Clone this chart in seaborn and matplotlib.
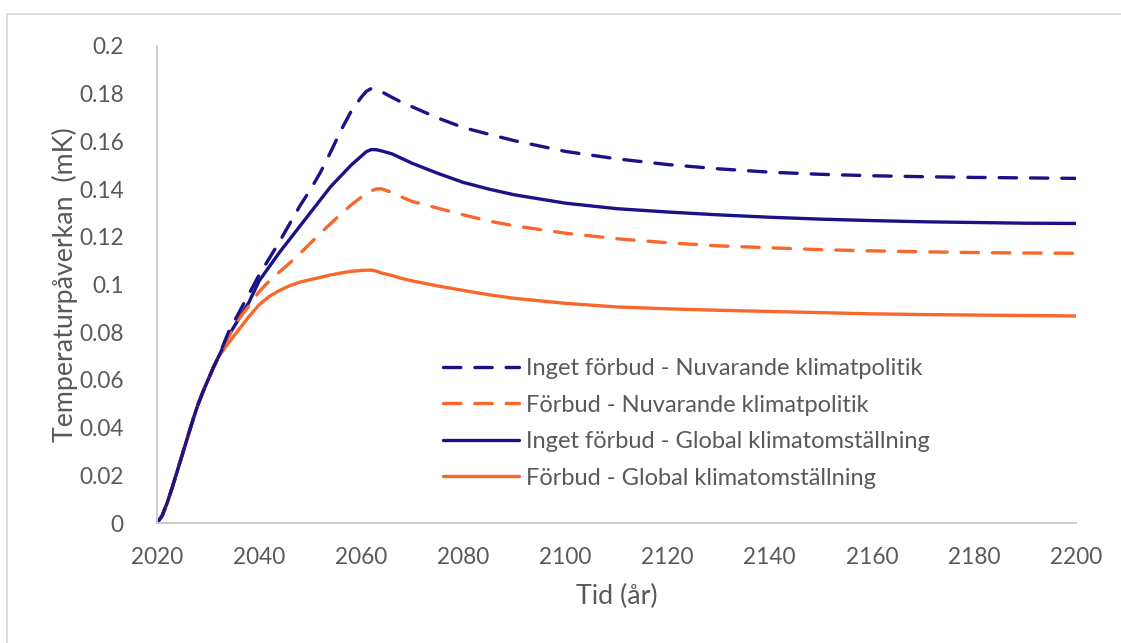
import numpy as np
import pandas as pd
import matplotlib
matplotlib.use("Agg")
import matplotlib.pyplot as plt
import seaborn as sns
from matplotlib.patches import Rectangle
from matplotlib.lines import Line2D

# ---- data ----
years = [2020, 2021, 2022, 2023, 2024, 2025, 2026, 2027, 2028, 2029, 2030, 2031, 2032,
         2034, 2036, 2038, 2040, 2042, 2044, 2046, 2048, 2050, 2052, 2054, 2056, 2058,
         2060, 2061, 2062, 2063, 2064, 2066, 2068, 2070,
         2075, 2080, 2085, 2090,
         2100, 2110, 2120, 2130, 2140, 2150, 2160, 2170, 2180, 2190, 2200]

# common start (all four scenarios coincide until ~2032)
common_start = [0.0, 0.003, 0.0085, 0.015, 0.022, 0.029, 0.036, 0.043, 0.0495, 0.055,
                0.060, 0.065, 0.0695]

inget_nuvarande_rest = [0.080, 0.088, 0.096, 0.104, 0.111, 0.118, 0.1255, 0.133, 0.1396,
                        0.147, 0.1555, 0.1645, 0.1725, 0.1785, 0.181, 0.1822, 0.1818,
                        0.1808, 0.1785, 0.1763, 0.1745,
                        0.1698, 0.1658, 0.163, 0.1603,
                        0.1558, 0.1527, 0.1503, 0.1485, 0.1471, 0.1462, 0.1456, 0.1452,
                        0.1449, 0.1447, 0.1445]

forbud_nuvarande_rest = [0.078, 0.0855, 0.091, 0.097, 0.1015, 0.1053, 0.109, 0.113, 0.1172,
                         0.1215, 0.1255, 0.1295, 0.1333, 0.1366, 0.138, 0.1393, 0.1401,
                         0.1401, 0.1386, 0.1366, 0.1348,
                         0.132, 0.1292, 0.1266, 0.1246,
                         0.1215, 0.1192, 0.1175, 0.1162, 0.1154, 0.1146, 0.1141, 0.1137,
                         0.1134, 0.1132, 0.1131]

inget_global_rest = [0.0785, 0.0855, 0.0925, 0.1015, 0.1075, 0.1135, 0.119, 0.1245, 0.130,
                     0.1355, 0.141, 0.1455, 0.150, 0.1538, 0.1557, 0.1566, 0.1565, 0.156,
                     0.1548, 0.1528, 0.1508,
                     0.1466, 0.1428, 0.1400, 0.1376,
                     0.1341, 0.1318, 0.1304, 0.1292, 0.1282, 0.1274, 0.1268, 0.1263,
                     0.126, 0.1257, 0.1256]

forbud_global_rest = [0.0755, 0.081, 0.0865, 0.0915, 0.095, 0.0975, 0.0995, 0.101, 0.102,
                      0.103, 0.104, 0.1048, 0.1055, 0.1059, 0.106, 0.106, 0.1056, 0.1048,
                      0.1038, 0.1025, 0.1015,
                      0.0994, 0.0975, 0.0957, 0.0942,
                      0.0921, 0.0906, 0.0898, 0.0892, 0.0887, 0.0882, 0.0877, 0.0874,
                      0.0872, 0.087, 0.0868]

labels = ["Inget förbud - Nuvarande klimatpolitik",
          "Förbud - Nuvarande klimatpolitik",
          "Inget förbud - Global klimatomställning",
          "Förbud - Global klimatomställning"]

x_ticks = [2020, 2040, 2060, 2080, 2100, 2120, 2140, 2160, 2180, 2200]
y_ticks = [0, 0.02, 0.04, 0.06, 0.08, 0.1, 0.12, 0.14, 0.16, 0.18, 0.2]
y_tick_labels = ["0", "0.02", "0.04", "0.06", "0.08", "0.1", "0.12", "0.14", "0.16",
                 "0.18", "0.2"]

NAVY = "#1B1287"
ORANGE = "#F8682C"
GRAY_TXT = "#595959"
GRAY_AX = "#C8C8C8"
DASH = (5.2, 4.2)

series = [
    (labels[0], inget_nuvarande_rest, NAVY, True),
    (labels[1], forbud_nuvarande_rest, ORANGE, True),
    (labels[2], inget_global_rest, NAVY, False),
    (labels[3], forbud_global_rest, ORANGE, False),
]

rows = []
for name, rest, _, _ in series:
    for x, v in zip(years, common_start + rest):
        rows.append({"year": x, "value": v, "series": name})
df = pd.DataFrame(rows)

sns.set_theme(style="white")
plt.rcParams["font.family"] = ["Lato", "DejaVu Sans"]

fig = plt.figure(figsize=(11.21, 6.43), dpi=100)
W, H = 1121, 643
ax = fig.add_axes([157 / W, 1 - 523 / H, (1076 - 157) / W, (523 - 46) / H])

palette = {name: c for name, _, c, _ in series}
dashed = {name: d for name, _, _, d in series}
# solid first so dashed lie on top like the reference
order = [labels[3], labels[2], labels[1], labels[0]]
for name in order:
    sub = df[df["series"] == name]
    sns.lineplot(data=sub, x="year", y="value", ax=ax, color=palette[name],
                 linewidth=2.4, legend=False, estimator=None, sort=False)
    ln = ax.lines[-1]
    if dashed[name]:
        ln.set_dashes(DASH)
    ln.set_solid_capstyle("round")
    ln.set_dash_capstyle("round")
    ln.set_solid_joinstyle("round")
    ln.set_dash_joinstyle("round")

ax.set_xlim(2020, 2200)
ax.set_ylim(0, 0.2)
ax.set_xticks(x_ticks)
ax.set_xticklabels([str(t) for t in x_ticks])
ax.set_yticks(y_ticks)
ax.set_yticklabels(y_tick_labels)
ax.tick_params(axis="both", length=0, labelsize=16.3, colors=GRAY_TXT)
ax.tick_params(axis="y", pad=24)
ax.tick_params(axis="x", pad=17)
for s in ["top", "right"]:
    ax.spines[s].set_visible(False)
for s in ["left", "bottom"]:
    ax.spines[s].set_color(GRAY_AX)
    ax.spines[s].set_linewidth(1.3)

ax.set_xlabel("Tid (år)", fontsize=19.3, color=GRAY_TXT, labelpad=12)
ax.set_ylabel("Temperaturpåverkan  (mK)", fontsize=19.3, color=GRAY_TXT, labelpad=1)

handles = []
for _, _, c, d in series:
    h = Line2D([], [], color=c, lw=2.4, dash_capstyle="round", solid_capstyle="round")
    if d:
        h.set_dashes(DASH)
    handles.append(h)
leg = ax.legend(handles, labels, loc="upper left",
                bbox_to_anchor=(443 / W, 1 - 358 / H), bbox_transform=fig.transFigure,
                frameon=False, fontsize=17, handlelength=3.2, handletextpad=0.3,
                labelspacing=0.66, borderpad=0, borderaxespad=0)
for t in leg.get_texts():
    t.set_color(GRAY_TXT)

# outer chart border
fig.patches.append(Rectangle((7 / W, -0.05), 1.2, 1 - 14 / H + 0.05,
                             transform=fig.transFigure, fill=False,
                             edgecolor="#D9D9D9", linewidth=1.3, zorder=0))

fig.savefig("out.png", dpi=100)
